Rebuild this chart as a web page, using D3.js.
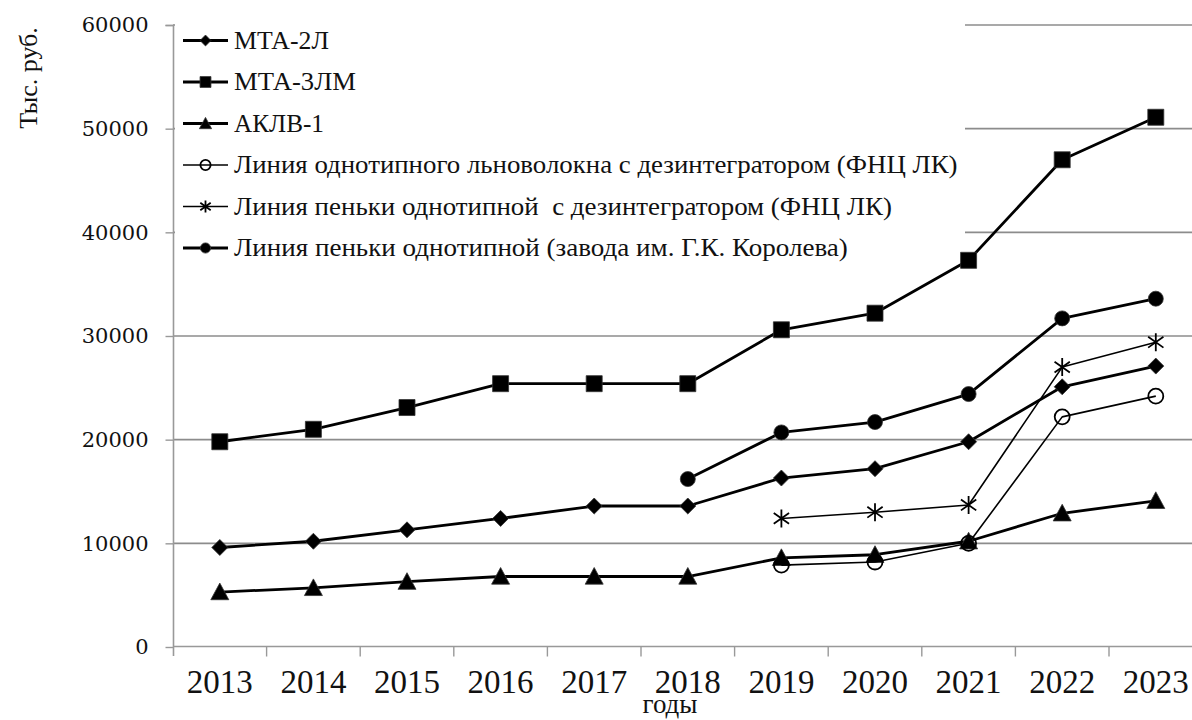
<!DOCTYPE html>
<html>
<head>
<meta charset="utf-8">
<script src="https://cdn.jsdelivr.net/npm/d3@7"></script>
<style>
  body { margin: 0; background: #fff; }
  svg { display: block; }
  text { font-family: "Liberation Serif", "Times New Roman", serif; fill: #111; }
</style>
</head>
<body>
<svg id="chart" width="1192" height="720"></svg>
<script>
//data, thousand rubles by year
var years = ['2013', '2014', '2015', '2016', '2017', '2018', '2019', '2020', '2021', '2022', '2023'];
var mta2l = [9600, 10200, 11300, 12400, 13600, 13600, 16300, 17200, 19800, 25100, 27100];
var mta3lm = [19800, 21000, 23100, 25400, 25400, 25400, 30600, 32200, 37300, 47000, 51100];
var aklv1 = [5300, 5700, 6300, 6800, 6800, 6800, 8600, 8900, 10200, 12900, 14100];
var flaxLine = [null, null, null, null, null, null, 7900, 8200, 10000, 22200, 24200];
var hempLineFnc = [null, null, null, null, null, null, 12400, 13000, 13700, 27000, 29400];
var hempLineKorolev = [null, null, null, null, null, 16200, 20700, 21700, 24400, 31700, 33600];

var seriesNames = [
	'МТА-2Л',
	'МТА-3ЛМ',
	'АКЛВ-1',
	'Линия однотипного льноволокна с дезинтегратором (ФНЦ ЛК)',
	'Линия пеньки однотипной\u00a0 с дезинтегратором (ФНЦ ЛК)',
	'Линия пеньки однотипной (завода им. Г.К. Королева)'
];
var yTicks = [0, 10000, 20000, 30000, 40000, 50000, 60000];

///some constants
var gridColor = '#8c8c8c';
var axisColor = '#999';

var series = [
	{ name: seriesNames[0], values: mta2l, marker: 'diamond', width: 2.8 },
	{ name: seriesNames[1], values: mta3lm, marker: 'square', width: 2.8 },
	{ name: seriesNames[2], values: aklv1, marker: 'triangle', width: 2.8 },
	{ name: seriesNames[3], values: flaxLine, marker: 'ring', width: 1.6 },
	{ name: seriesNames[4], values: hempLineFnc, marker: 'star', width: 1.6 },
	{ name: seriesNames[5], values: hempLineKorolev, marker: 'dot', width: 2.8 }
];

var svg = d3.select('#chart');

//plot area runs past the right edge, like the cropped original
var x = d3.scaleBand()
	.domain(years)
	.range([173, 1202.6]);
var y = d3.scaleLinear()
	.domain([0, 60000])
	.range([647, 25]);

//gridlines
svg.append('g')
	.selectAll('line')
	.data(yTicks.slice(1))
	.enter().append('line')
	.attr('x1', 173)
	.attr('x2', 1192)
	.attr('y1', function (d) { return y(d); })
	.attr('y2', function (d) { return y(d); })
	.style('stroke', gridColor)
	.style('stroke-width', 1.6);

//legend box hides the grid, the series still go over it
svg.append('rect')
	.attr('x', 175)
	.attr('y', 10)
	.attr('width', 790)
	.attr('height', 250)
	.style('fill', '#fff');

//y axis
var yAxis = d3.axisLeft(y)
	.tickValues(yTicks)
	.tickSize(8)
	.tickPadding(17)
	.tickFormat(d3.format('d'));
var gy = svg.append('g')
	.attr('transform', 'translate(173.5,0)')
	.call(yAxis);
gy.select('.domain').attr('d', 'M-8,25.5H0V656').style('stroke', axisColor).style('stroke-width', 1.6);
gy.selectAll('.tick line').style('stroke', axisColor).style('stroke-width', 1.4);
gy.selectAll('.tick text')
	.style('font-family', '"DejaVu Serif", serif')
	.style('font-size', '21px')
	.style('fill', '#111');

//x axis: labels under band centres, ticks on band edges
var xAxis = d3.axisBottom(x)
	.tickSize(0)
	.tickPadding(0);
var gx = svg.append('g')
	.attr('transform', 'translate(0,646.5)')
	.call(xAxis);
gx.select('.domain').attr('d', 'M173,0H1192').style('stroke', axisColor).style('stroke-width', 1.6);
gx.selectAll('.tick text')
	.attr('dy', null)
	.attr('y', 46)
	.style('font-size', '33px');
gx.selectAll('.edge')
	.data(years)
	.enter().append('line')
	.attr('class', 'edge')
	.attr('x1', function (d) { return x(d) + x.bandwidth(); })
	.attr('x2', function (d) { return x(d) + x.bandwidth(); })
	.attr('y1', 0)
	.attr('y2', 10)
	.style('stroke', axisColor)
	.style('stroke-width', 1.4);

//axis titles
svg.append('text')
	.attr('x', 670)
	.attr('y', 713)
	.attr('text-anchor', 'middle')
	.style('font-size', '27px')
	.text('годы');
svg.append('text')
	.attr('transform', 'translate(37,78) rotate(-90)')
	.attr('text-anchor', 'middle')
	.style('font-size', '26px')
	.text('Тыс. руб.');

//marker shapes, k scales them down for the legend
function markerPath(type, k) {
	var r;
	if (type == 'diamond') {
		r = 8 * k;
		return 'M0,' + (-r) + 'L' + r + ',0L0,' + r + 'L' + (-r) + ',0Z';
	}
	if (type == 'square') {
		r = 8 * k;
		return 'M' + (-r) + ',' + (-r) + 'H' + r + 'V' + r + 'H' + (-r) + 'Z';
	}
	if (type == 'triangle') {
		r = 9 * k;
		return 'M0,' + (-r) + 'L' + r + ',' + (r * 0.85) + 'L' + (-r) + ',' + (r * 0.85) + 'Z';
	}
	if (type == 'star') {
		r = 9 * k;
		var ax = r * 0.85, ay = r * 0.6;
		return 'M0,' + (-r) + 'V' + r +
			'M' + (-ax) + ',' + (-ay) + 'L' + ax + ',' + ay +
			'M' + (-ax) + ',' + ay + 'L' + ax + ',' + (-ay);
	}
	//circles
	r = 7.5 * k;
	return 'M' + r + ',0A' + r + ',' + r + ' 0 1,1 ' + (-r) + ',0A' + r + ',' + r + ' 0 1,1 ' + r + ',0Z';
}
function styleMarker(sel, type) {
	if (type == 'ring' || type == 'star') {
		sel.style('fill', 'none').style('stroke', '#000').style('stroke-width', 1.8);
	} else {
		sel.style('fill', '#000').style('stroke', '#333').style('stroke-width', 0.8);
	}
}

var line = d3.line()
	.defined(function (d) { return d.v != null; })
	.x(function (d) { return x(d.year) + x.bandwidth() / 2; })
	.y(function (d) { return y(d.v); });

//draw every series: line first, then markers
series.forEach(function (s) {
	var pts = years.map(function (yr, i) { return { year: yr, v: s.values[i] }; });
	var g = svg.append('g');
	g.append('path')
		.datum(pts)
		.attr('d', line)
		.style('fill', 'none')
		.style('stroke', '#000')
		.style('stroke-width', s.width)
		.style('stroke-linejoin', 'round');
	g.selectAll('path.mk')
		.data(pts.filter(function (d) { return d.v != null; }))
		.enter().append('path')
		.attr('class', 'mk')
		.attr('transform', function (d) {
			return 'translate(' + (x(d.year) + x.bandwidth() / 2) + ',' + y(d.v) + ')';
		})
		.attr('d', markerPath(s.marker, 1))
		.call(styleMarker, s.marker);
});

//legend entries, text squeezed sideways to the widths in the original
var legendWidths = [95, 122, 90, 724, 658, 614];
var items = svg.append('g').selectAll('g.item')
	.data(series)
	.enter().append('g')
	.attr('class', 'item')
	.attr('transform', function (d, i) { return 'translate(0,' + (48.5 + i * 41.5) + ')'; });
items.append('line')
	.attr('x1', 183)
	.attr('x2', 228)
	.attr('y1', -8)
	.attr('y2', -8)
	.style('stroke', '#000')
	.style('stroke-width', function (d) { return d.width; });
items.each(function (d) {
	d3.select(this).append('path')
		.attr('transform', 'translate(205.5,-8)')
		.attr('d', markerPath(d.marker, 0.68))
		.call(styleMarker, d.marker);
});
items.append('text')
	.attr('x', 0)
	.attr('y', 0)
	.style('font-size', '26px')
	.text(function (d) { return d.name; })
	.attr('transform', function (d, i) {
		var w = this.getComputedTextLength();
		return 'translate(234,0) scale(' + (legendWidths[i] / w) + ',1)';
	});
</script>
</body>
</html>
